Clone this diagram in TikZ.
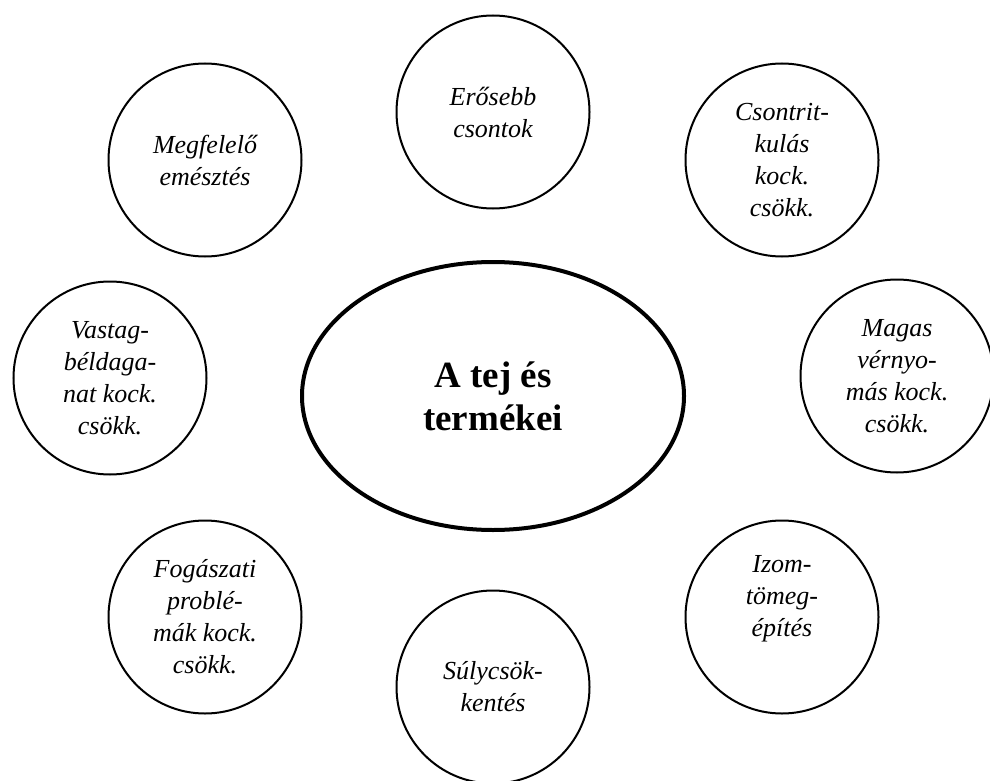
\documentclass[tikz,border=0pt]{standalone}
\usepackage{fontspec}
\setmainfont{Liberation Serif}
\usetikzlibrary{shapes.geometric}

\tikzset{
  bubble/.style={circle, draw=black, line width=2pt, minimum size=193pt,
    inner sep=0pt, align=center,
    font=\itshape\fontsize{26}{32}\selectfont},
  hub/.style={ellipse, draw=black, line width=4pt, minimum width=382pt,
    minimum height=268pt, inner sep=0pt, align=center,
    font=\bfseries\fontsize{37}{43}\selectfont}
}

\begin{document}
\begin{tikzpicture}[x=1pt, y=-1pt]
  \useasboundingbox (0,0) rectangle (990,781);

  % central topic
  \node[hub] (milk) at (493,396) {A tej és\\termékei};

  % surrounding benefits
  \node[bubble] (bones)   at (493,112) {Erősebb\\csontok};
  \node[bubble] (digest)  at (205,160) {Megfelelő\\emésztés};
  \node[bubble] (osteo)   at (782,160) {Csontrit-\\kulás\\kock.\\csökk.};
  \node[bubble] (colon)   at (110,378) {Vastag-\\béldaga-\\nat kock.\\csökk.};
  \node[bubble] (blood)   at (897,376) {Magas\\vérnyo-\\más kock.\\csökk.};
  \node[bubble] (teeth)   at (205,617) {Fogászati\\problé-\\mák kock.\\csökk.};
  \node[bubble] (weight)  at (493,687) {Súlycsök-\\kentés};
  \node[bubble] (muscle)  at (782,617) {Izom-\\tömeg-\\építés\\\strut};
\end{tikzpicture}
\end{document}
